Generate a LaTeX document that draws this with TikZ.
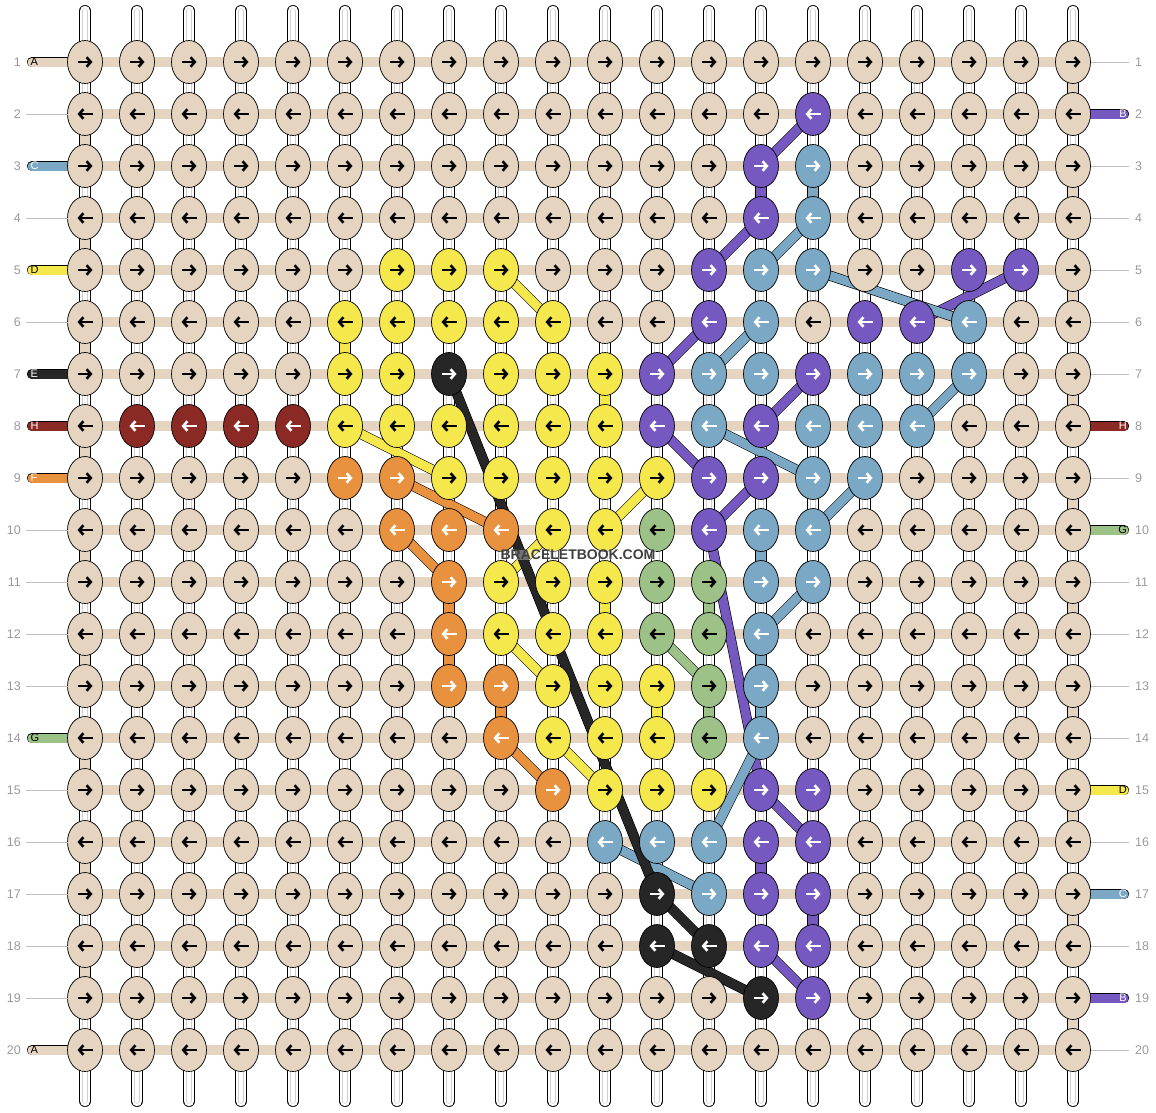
\documentclass[tikz,border=0pt]{standalone}
\usepackage{fontspec}
\setmainfont{Liberation Sans}
\usetikzlibrary{shapes,arrows.meta,calc,positioning,backgrounds}

\definecolor{strA}{HTML}{E5D4C0}
\definecolor{strB}{HTML}{7558C0}
\definecolor{strC}{HTML}{7BA8C4}
\definecolor{strD}{HTML}{F5E84C}
\definecolor{strE}{HTML}{262626}
\definecolor{strF}{HTML}{E8913F}
\definecolor{strG}{HTML}{9DC288}
\definecolor{strH}{HTML}{8B2A25}
\definecolor{rownum}{HTML}{9A9A9A}

% arrow colour on each string
\def\arrA{black}\def\arrB{white}\def\arrC{white}\def\arrD{black}
\def\arrE{white}\def\arrF{white}\def\arrG{black}\def\arrH{white}

\newcommand\knotcol[3]{\expandafter\xdef\csname kc-#1-#2\endcsname{#3}}
\newcommand\vlinkcol[3]{\expandafter\xdef\csname vl-#1-#2\endcsname{#3}}

\pgfdeclarelayer{back}
\pgfdeclarelayer{mid}
\pgfsetlayers{back,mid,main}

\begin{document}
\begin{tikzpicture}[x=1pt, y=-1pt,
  knot/.style={ellipse, draw=black, line width=0.7pt, minimum width=35pt, minimum height=43pt, inner sep=0pt, outer sep=0pt},
  bar/.style={draw=black, line width=0.8pt, double=strA, double distance=9.2pt},
  warp/.style={draw=black, line width=0.7pt, double=white, double distance=10.5pt},
  warpcore/.style={draw=black!18, line width=0.6pt, double=white, double distance=4pt},
  vlink/.style={draw=black, line width=0.7pt, double distance=10.5pt},
  thread/.style={draw=black, line width=0.6pt, double distance=9pt},
  tagbar/.style={draw=black, line width=0.7pt, double distance=9pt, line cap=round},
  guide/.style={draw=black!25, line width=0.8pt},
  num/.style={text=rownum, font=\fontsize{12.5}{12.5}\selectfont, inner sep=0pt},
  tagtext/.style={font=\fontsize{11}{11}\selectfont, inner sep=0pt},
  arrowr/.style={line width=2.6pt, -{Straight Barb[length=4.2pt,width=9.5pt]}}]
  \useasboundingbox (0,0) rectangle (1156,1112);

  % coloured knots, row by row
  \foreach \rw/\cls in {
    2/{15/B},
    3/{14/B,15/C},
    4/{14/B,15/C},
    5/{7/D,8/D,9/D,13/B,14/C,15/C,18/B,19/B},
    6/{6/D,7/D,8/D,9/D,10/D,13/B,14/C,16/B,17/B,18/C},
    7/{6/D,7/D,8/E,9/D,10/D,11/D,12/B,13/C,14/C,15/B,16/C,17/C,18/C},
    8/{2/H,3/H,4/H,5/H,6/D,7/D,8/D,9/D,10/D,11/D,12/B,13/C,14/B,15/C,16/C,17/C},
    9/{6/F,7/F,8/D,9/D,10/D,11/D,12/D,13/B,14/B,15/C,16/C},
    10/{7/F,8/F,9/F,10/D,11/D,12/G,13/B,14/C,15/C},
    11/{8/F,9/D,10/D,11/D,12/G,13/G,14/C,15/C},
    12/{8/F,9/D,10/D,11/D,12/G,13/G,14/C},
    13/{8/F,9/F,10/D,11/D,12/D,13/G,14/C},
    14/{9/F,10/D,11/D,12/D,13/G,14/C},
    15/{10/F,11/D,12/D,13/D,14/B,15/B},
    16/{11/C,12/C,13/C,14/B,15/B},
    17/{12/E,13/C,14/B,15/B},
    18/{12/E,13/E,14/B,15/B},
    19/{14/E,15/B}}
    {\foreach \cl/\strng in \cls {\knotcol{\rw}{\cl}{\strng}}}

  % links that run straight down
  \foreach \rw/\cl/\strng in {3/14/B,3/15/C,6/6/D,7/11/D,11/8/F,12/8/F,13/9/F,11/11/D,13/12/D,
      11/13/G,13/13/G,10/14/C,12/14/C,13/14/C,16/14/B,17/15/B}
    {\vlinkcol{\rw}{\cl}{\strng}}
  \foreach \rw in {2,4,...,18} {\vlinkcol{\rw}{1}{A}}
  \foreach \rw in {1,3,...,19} {\vlinkcol{\rw}{20}{A}}

  % knots
  \foreach \rw in {1,...,20}{
    \foreach \cl in {1,...,20}{
      \ifcsname kc-\rw-\cl\endcsname
        \edef\strng{\csname kc-\rw-\cl\endcsname}%
      \else
        \def\strng{A}%
      \fi
      \edef\acol{\csname arr\strng\endcsname}%
      \node[knot, fill=str\strng] (k-\rw-\cl) at ({85+52*(\cl-1)},{62+52*(\rw-1)}) {};
      \ifodd\rw
        \draw[arrowr, draw=\acol] ([xshift=-7.5pt]k-\rw-\cl.center) -- ([xshift=7.5pt]k-\rw-\cl.center);
      \else
        \draw[arrowr, draw=\acol] ([xshift=7.5pt]k-\rw-\cl.center) -- ([xshift=-7.5pt]k-\rw-\cl.center);
      \fi
    }
  }

  \begin{pgfonlayer}{back}
    % warps above and below
    \foreach \cl in {1,...,20}{
      \coordinate (wt-\cl) at ({85+52*(\cl-1)},11);
      \coordinate (wb-\cl) at ({85+52*(\cl-1)},1101);
      \draw[warp, line cap=round] (wt-\cl) -- (k-1-\cl.center);
      \draw[warpcore, line cap=round] (wt-\cl) -- (k-1-\cl.center);
      \draw[warp, line cap=round] (k-20-\cl.center) -- (wb-\cl);
      \draw[warpcore, line cap=round] (k-20-\cl.center) -- (wb-\cl);
    }
    % between rows
    \foreach \rw [evaluate=\rw as \nx using int(\rw+1)] in {1,...,19}{
      \foreach \cl in {1,...,20}{
        \ifcsname vl-\rw-\cl\endcsname
          \edef\strng{\csname vl-\rw-\cl\endcsname}%
          \draw[vlink, double=str\strng] (k-\rw-\cl.center) -- (k-\nx-\cl.center);
        \else
          \draw[warp] (k-\rw-\cl.center) -- (k-\nx-\cl.center);
          \draw[warpcore] (k-\rw-\cl.center) -- (k-\nx-\cl.center);
        \fi
      }
    }
    % rows
    \foreach \rw in {1,...,20}{
      \foreach \cl [evaluate=\cl as \nx using int(\cl+1)] in {1,...,19}{
        \draw[bar] (k-\rw-\cl.center) -- (k-\rw-\nx.center);
      }
    }
  \end{pgfonlayer}

  % strings moving across
  \begin{pgfonlayer}{mid}
    \foreach \strng/\a/\b in {B/2-15/3-14, B/4-14/5-13, B/5-19/6-17, B/6-13/7-12, B/7-15/8-14,
        B/8-12/9-13, B/9-14/10-13, B/10-13/15-14, B/15-14/16-15, B/18-14/19-15,
        C/4-15/5-14, C/5-15/6-18, C/6-14/7-13, C/7-18/8-17, C/8-13/9-15, C/9-16/10-15,
        C/11-15/12-14, C/14-14/16-13, C/16-11/17-13,
        D/5-9/6-10, D/8-6/9-8, D/9-12/10-11, D/10-10/11-9, D/12-9/13-10, D/14-10/15-11,
        E/7-8/17-12, E/17-12/18-13, E/18-12/19-14,
        F/9-7/10-9, F/10-7/11-8, F/14-9/15-10,
        G/12-12/13-13}
      {\draw[thread, double=str\strng] (k-\a.center) -- (k-\b.center);}
  \end{pgfonlayer}

  % row numbers
  \foreach \rw in {1,...,20}{
    \node[num, anchor=east] (nl-\rw) at (21,{62+52*(\rw-1)}) {\rw};
    \node[num, anchor=west] (nr-\rw) at (1135,{62+52*(\rw-1)}) {\rw};
  }

  % strings coming in on the left
  \foreach \rw/\strng in {1/A,3/C,5/D,7/E,8/H,9/F,14/G,20/A}{
    \coordinate (tl-\rw) at (32,{62+52*(\rw-1)});
    \begin{pgfonlayer}{back}
      \draw[tagbar, double=str\strng] (tl-\rw) -- (k-\rw-1.center);
    \end{pgfonlayer}
    \node[tagtext, anchor=west, text=\csname arr\strng\endcsname] (tll-\rw) at (30.5,{62+52*(\rw-1)}) {\strng};
  }
  \foreach \rw in {2,4,6,10,11,12,13,15,16,17,18,19}{
    \coordinate (gl-\rw) at (26,{62+52*(\rw-1)});
    \draw[guide] (gl-\rw) -- (k-\rw-1);
  }

  % strings going out on the right
  \foreach \rw/\strng in {2/B,8/H,10/G,15/D,17/C,19/B}{
    \coordinate (tr-\rw) at (1124,{62+52*(\rw-1)});
    \begin{pgfonlayer}{back}
      \draw[tagbar, double=str\strng] (k-\rw-20.center) -- (tr-\rw);
    \end{pgfonlayer}
    \node[tagtext, anchor=east, text=\csname arr\strng\endcsname] (trl-\rw) at (1127,{62+52*(\rw-1)}) {\strng};
  }
  \foreach \rw in {1,3,4,5,6,7,9,11,12,13,14,16,18,20}{
    \coordinate (gr-\rw) at (1129,{62+52*(\rw-1)});
    \draw[guide] (k-\rw-20) -- (gr-\rw);
  }

  \node[font=\bfseries\fontsize{14}{14}\selectfont, text=black!75, fill=white, fill opacity=0.35, text opacity=1, inner sep=0.5pt] (mark) at (578,555) {BRACELETBOOK.COM};
\end{tikzpicture}
\end{document}
